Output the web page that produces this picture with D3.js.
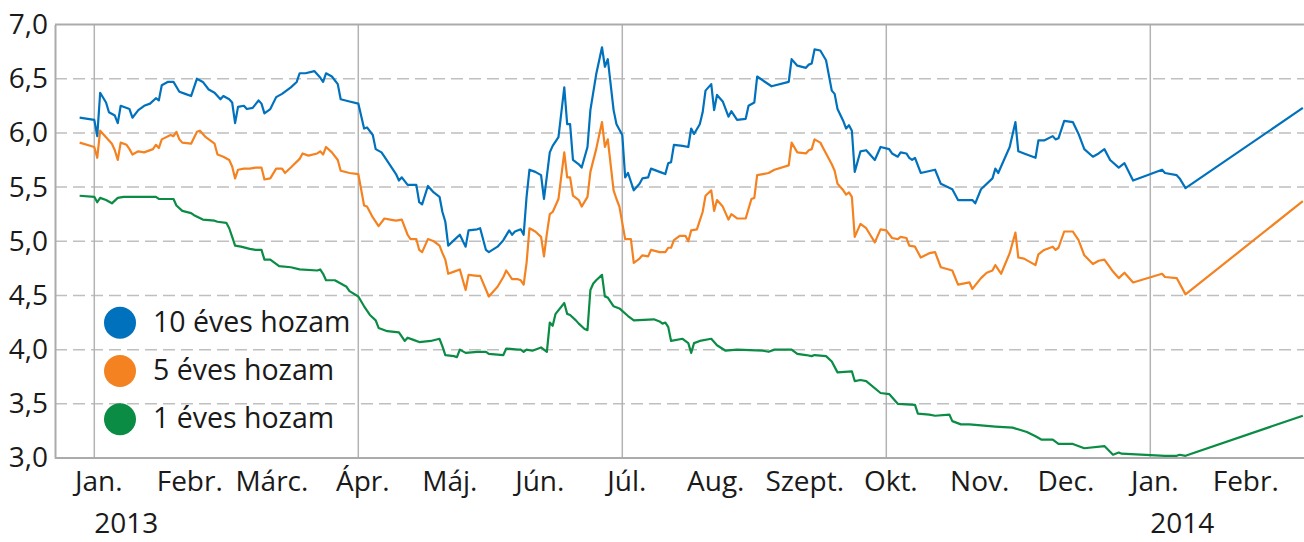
<!DOCTYPE html>
<html>
<head>
<meta charset="utf-8">
<script src="https://cdn.jsdelivr.net/npm/d3@7"></script>
<style>
  body { margin: 0; background: #fff; }
  text { font-family: "Open Sans", sans-serif; fill: #1a1a1a; }
</style>
</head>
<body>
<svg id="chart" width="1304" height="542"></svg>
<script>
// quarter boundaries are spaced evenly on the original axis
const quarterStarts = ["2013-01-01", "2013-04-01", "2013-07-01", "2013-10-01", "2014-01-01", "2014-04-01"];
const monthLabels = ["Jan.", "Febr.", "Márc.", "Ápr.", "Máj.", "Jún.", "Júl.", "Aug.", "Szept.", "Okt.", "Nov.", "Dec.", "Jan.", "Febr."];
const yearLabels = [["2013-01-01", "2013"], ["2014-01-01", "2014"]];
const yTicks = [3.0, 3.5, 4.0, 4.5, 5.0, 5.5, 6.0, 6.5, 7.0];
const seriesNames = ["10 éves hozam", "5 éves hozam", "1 éves hozam"];

const tenYear = [
  ["2012-12-27",6.14],["2013-01-01",6.12],["2013-01-02",5.97],["2013-01-03",6.37],["2013-01-05",6.28],["2013-01-06",6.19],["2013-01-08",6.16],["2013-01-09",6.09],["2013-01-10",6.25],["2013-01-13",6.22],["2013-01-14",6.14],["2013-01-16",6.21],["2013-01-18",6.25],["2013-01-20",6.27],["2013-01-22",6.32],["2013-01-23",6.30],["2013-01-24",6.44],["2013-01-26",6.47],["2013-01-28",6.47],["2013-01-30",6.38],["2013-02-01",6.36],["2013-02-03",6.34],["2013-02-05",6.50],["2013-02-07",6.47],["2013-02-09",6.40],["2013-02-11",6.37],["2013-02-13",6.31],["2013-02-14",6.34],["2013-02-16",6.31],["2013-02-17",6.28],["2013-02-18",6.09],["2013-02-19",6.24],["2013-02-21",6.25],["2013-02-22",6.22],["2013-02-24",6.23],["2013-02-26",6.30],["2013-02-27",6.27],["2013-02-28",6.18],["2013-03-02",6.22],["2013-03-04",6.33],["2013-03-06",6.36],["2013-03-09",6.42],["2013-03-11",6.47],["2013-03-12",6.55],["2013-03-14",6.55],["2013-03-17",6.57],["2013-03-19",6.51],["2013-03-20",6.47],["2013-03-21",6.55],["2013-03-23",6.52],["2013-03-25",6.45],["2013-03-26",6.31],["2013-03-29",6.29],
  ["2013-04-01",6.27],["2013-04-03",6.04],["2013-04-04",6.05],["2013-04-06",5.98],["2013-04-07",5.85],["2013-04-09",5.82],["2013-04-10",5.78],["2013-04-12",5.70],["2013-04-14",5.62],["2013-04-15",5.56],["2013-04-16",5.59],["2013-04-18",5.52],["2013-04-21",5.52],["2013-04-22",5.36],["2013-04-23",5.34],["2013-04-25",5.51],["2013-04-27",5.45],["2013-04-29",5.41],["2013-04-30",5.27],["2013-05-01",5.18],["2013-05-02",4.96],["2013-05-04",5.01],["2013-05-06",5.06],["2013-05-08",4.95],["2013-05-09",5.10],["2013-05-12",5.11],["2013-05-13",5.12],["2013-05-15",4.92],["2013-05-16",4.90],["2013-05-19",4.95],["2013-05-21",5.01],["2013-05-23",5.10],["2013-05-24",5.06],["2013-05-25",5.09],["2013-05-27",5.11],["2013-05-28",5.06],["2013-05-29",5.41],["2013-05-30",5.66],["2013-06-01",5.64],["2013-06-03",5.61],["2013-06-04",5.39],["2013-06-05",5.60],["2013-06-06",5.82],["2013-06-07",5.88],["2013-06-09",5.96],["2013-06-11",6.42],["2013-06-12",6.08],["2013-06-13",6.08],["2013-06-14",5.75],["2013-06-16",5.71],["2013-06-17",5.68],["2013-06-19",5.87],["2013-06-20",6.21],["2013-06-22",6.54],["2013-06-24",6.79],["2013-06-25",6.61],["2013-06-26",6.68],["2013-06-28",6.21],["2013-06-29",6.08],
  ["2013-07-01",5.98],["2013-07-02",5.59],["2013-07-03",5.63],["2013-07-05",5.47],["2013-07-07",5.53],["2013-07-08",5.58],["2013-07-10",5.59],["2013-07-11",5.67],["2013-07-14",5.64],["2013-07-16",5.62],["2013-07-17",5.72],["2013-07-18",5.73],["2013-07-19",5.89],["2013-07-22",5.88],["2013-07-24",5.87],["2013-07-25",6.04],["2013-07-26",5.99],["2013-07-28",6.08],["2013-07-29",6.19],["2013-07-30",6.39],["2013-08-01",6.45],["2013-08-02",6.21],["2013-08-03",6.35],["2013-08-05",6.29],["2013-08-07",6.15],["2013-08-08",6.20],["2013-08-10",6.12],["2013-08-13",6.13],["2013-08-14",6.25],["2013-08-16",6.28],["2013-08-17",6.52],["2013-08-22",6.43],["2013-08-28",6.47],["2013-08-29",6.68],["2013-08-31",6.62],["2013-09-03",6.60],["2013-09-04",6.63],["2013-09-05",6.64],["2013-09-06",6.77],["2013-09-08",6.76],["2013-09-10",6.67],["2013-09-12",6.39],["2013-09-13",6.36],["2013-09-14",6.22],["2013-09-16",6.11],["2013-09-17",6.04],["2013-09-18",6.07],["2013-09-19",6.02],["2013-09-20",5.64],["2013-09-22",5.83],["2013-09-24",5.84],["2013-09-27",5.75],["2013-09-29",5.87],
  ["2013-10-02",5.85],["2013-10-03",5.81],["2013-10-05",5.78],["2013-10-06",5.82],["2013-10-08",5.81],["2013-10-09",5.77],["2013-10-10",5.75],["2013-10-11",5.77],["2013-10-13",5.63],["2013-10-18",5.66],["2013-10-20",5.53],["2013-10-24",5.48],["2013-10-26",5.38],["2013-10-31",5.38],["2013-11-01",5.35],["2013-11-03",5.48],["2013-11-07",5.58],["2013-11-08",5.67],["2013-11-09",5.63],["2013-11-13",5.87],["2013-11-15",6.10],["2013-11-16",5.83],["2013-11-18",5.81],["2013-11-22",5.77],["2013-11-23",5.93],["2013-11-25",5.93],["2013-11-28",5.97],["2013-11-29",5.94],["2013-11-30",5.95],["2013-12-02",6.11],["2013-12-05",6.10],["2013-12-07",5.99],["2013-12-09",5.85],["2013-12-12",5.78],["2013-12-14",5.81],["2013-12-16",5.85],["2013-12-18",5.75],["2013-12-21",5.68],["2013-12-23",5.72],["2013-12-26",5.56],
  ["2014-01-05",5.66],["2014-01-06",5.63],["2014-01-10",5.61],["2014-01-11",5.58],["2014-01-13",5.49],["2014-02-22",6.23]
];

const fiveYear = [
  ["2012-12-27",5.91],["2013-01-01",5.87],["2013-01-02",5.77],["2013-01-03",6.02],["2013-01-05",5.96],["2013-01-07",5.90],["2013-01-08",5.84],["2013-01-09",5.75],["2013-01-10",5.91],["2013-01-12",5.89],["2013-01-13",5.85],["2013-01-14",5.80],["2013-01-16",5.83],["2013-01-18",5.82],["2013-01-21",5.85],["2013-01-22",5.89],["2013-01-23",5.86],["2013-01-24",5.94],["2013-01-27",5.98],["2013-01-28",5.97],["2013-01-29",6.01],["2013-01-30",5.94],["2013-01-31",5.91],["2013-02-03",5.90],["2013-02-05",6.01],["2013-02-06",6.02],["2013-02-08",5.96],["2013-02-11",5.90],["2013-02-12",5.80],["2013-02-14",5.78],["2013-02-16",5.75],["2013-02-17",5.69],["2013-02-18",5.58],["2013-02-19",5.66],["2013-02-21",5.67],["2013-02-23",5.67],["2013-02-25",5.68],["2013-02-27",5.68],["2013-02-28",5.57],["2013-03-02",5.58],["2013-03-04",5.67],["2013-03-06",5.67],["2013-03-07",5.63],["2013-03-09",5.68],["2013-03-12",5.76],["2013-03-13",5.81],["2013-03-15",5.79],["2013-03-18",5.81],["2013-03-19",5.83],["2013-03-20",5.80],["2013-03-21",5.87],["2013-03-23",5.82],["2013-03-25",5.75],["2013-03-26",5.65],["2013-03-29",5.63],
  ["2013-04-01",5.62],["2013-04-03",5.33],["2013-04-04",5.32],["2013-04-06",5.22],["2013-04-08",5.14],["2013-04-10",5.21],["2013-04-12",5.20],["2013-04-14",5.19],["2013-04-16",5.20],["2013-04-18",5.06],["2013-04-19",5.02],["2013-04-21",5.02],["2013-04-22",4.92],["2013-04-23",4.90],["2013-04-25",5.02],["2013-04-27",5.00],["2013-04-29",4.96],["2013-04-30",4.89],["2013-05-01",4.83],["2013-05-02",4.70],["2013-05-04",4.72],["2013-05-06",4.74],["2013-05-08",4.55],["2013-05-09",4.69],["2013-05-12",4.68],["2013-05-13",4.68],["2013-05-16",4.49],["2013-05-19",4.58],["2013-05-21",4.67],["2013-05-22",4.73],["2013-05-24",4.65],["2013-05-26",4.65],["2013-05-27",4.64],["2013-05-28",4.60],["2013-05-29",4.80],["2013-05-30",5.12],["2013-06-01",5.09],["2013-06-03",5.04],["2013-06-04",4.86],["2013-06-05",5.07],["2013-06-06",5.25],["2013-06-07",5.27],["2013-06-09",5.39],["2013-06-11",5.82],["2013-06-12",5.59],["2013-06-13",5.59],["2013-06-14",5.42],["2013-06-16",5.38],["2013-06-17",5.32],["2013-06-19",5.41],["2013-06-20",5.64],["2013-06-22",5.85],["2013-06-24",6.10],["2013-06-25",5.87],["2013-06-26",5.94],["2013-06-28",5.47],["2013-06-29",5.39],["2013-06-30",5.32],
  ["2013-07-02",5.02],["2013-07-04",5.02],["2013-07-05",4.80],["2013-07-07",4.84],["2013-07-08",4.87],["2013-07-10",4.86],["2013-07-11",4.92],["2013-07-14",4.90],["2013-07-16",4.90],["2013-07-17",4.94],["2013-07-18",4.94],["2013-07-19",5.01],["2013-07-21",5.05],["2013-07-23",5.05],["2013-07-24",5.00],["2013-07-25",5.10],["2013-07-27",5.11],["2013-07-28",5.19],["2013-07-29",5.27],["2013-07-30",5.42],["2013-08-01",5.47],["2013-08-02",5.28],["2013-08-03",5.38],["2013-08-05",5.32],["2013-08-07",5.20],["2013-08-08",5.25],["2013-08-10",5.21],["2013-08-13",5.21],["2013-08-14",5.30],["2013-08-15",5.39],["2013-08-16",5.40],["2013-08-17",5.61],["2013-08-19",5.62],["2013-08-21",5.63],["2013-08-23",5.66],["2013-08-28",5.70],["2013-08-29",5.91],["2013-08-31",5.82],["2013-09-03",5.81],["2013-09-04",5.84],["2013-09-05",5.85],["2013-09-06",5.94],["2013-09-08",5.91],["2013-09-10",5.81],["2013-09-12",5.71],["2013-09-13",5.65],["2013-09-14",5.53],["2013-09-16",5.47],["2013-09-17",5.43],["2013-09-18",5.45],["2013-09-19",5.41],["2013-09-20",5.04],["2013-09-22",5.16],["2013-09-24",5.12],["2013-09-27",4.99],["2013-09-29",5.11],
  ["2013-10-01",5.10],["2013-10-03",5.03],["2013-10-05",5.02],["2013-10-06",5.04],["2013-10-08",5.03],["2013-10-09",4.96],["2013-10-11",4.95],["2013-10-13",4.85],["2013-10-16",4.89],["2013-10-18",4.90],["2013-10-20",4.76],["2013-10-24",4.73],["2013-10-26",4.60],["2013-10-30",4.62],["2013-10-31",4.56],["2013-11-03",4.66],["2013-11-05",4.71],["2013-11-07",4.73],["2013-11-08",4.78],["2013-11-10",4.70],["2013-11-13",4.89],["2013-11-15",5.08],["2013-11-16",4.85],["2013-11-18",4.84],["2013-11-22",4.78],["2013-11-23",4.88],["2013-11-25",4.92],["2013-11-28",4.95],["2013-11-29",4.92],["2013-11-30",4.94],["2013-12-02",5.09],["2013-12-05",5.09],["2013-12-07",5.01],["2013-12-09",4.87],["2013-12-12",4.79],["2013-12-14",4.82],["2013-12-16",4.83],["2013-12-19",4.72],["2013-12-21",4.66],["2013-12-23",4.71],["2013-12-26",4.62],
  ["2014-01-05",4.70],["2014-01-06",4.67],["2014-01-10",4.66],["2014-01-13",4.51],["2014-02-22",5.37]
];

const oneYear = [
  ["2012-12-27",5.42],["2013-01-01",5.41],["2013-01-02",5.36],["2013-01-03",5.40],["2013-01-05",5.38],["2013-01-07",5.35],["2013-01-09",5.40],["2013-01-11",5.41],["2013-01-15",5.41],["2013-01-20",5.41],["2013-01-22",5.41],["2013-01-23",5.39],["2013-01-28",5.39],["2013-01-29",5.33],["2013-01-31",5.28],["2013-02-03",5.26],["2013-02-04",5.24],["2013-02-07",5.20],["2013-02-11",5.19],["2013-02-12",5.18],["2013-02-15",5.17],["2013-02-16",5.12],["2013-02-17",5.04],["2013-02-18",4.96],["2013-02-20",4.95],["2013-02-23",4.93],["2013-02-25",4.92],["2013-02-27",4.92],["2013-02-28",4.83],["2013-03-02",4.83],["2013-03-05",4.77],["2013-03-09",4.76],["2013-03-12",4.74],["2013-03-18",4.73],["2013-03-19",4.74],["2013-03-20",4.70],["2013-03-21",4.64],["2013-03-24",4.64],["2013-03-26",4.61],["2013-03-28",4.58],["2013-03-29",4.54],
  ["2013-04-01",4.49],["2013-04-03",4.40],["2013-04-05",4.32],["2013-04-07",4.27],["2013-04-08",4.20],["2013-04-11",4.17],["2013-04-15",4.16],["2013-04-16",4.12],["2013-04-17",4.08],["2013-04-18",4.11],["2013-04-20",4.09],["2013-04-22",4.07],["2013-04-26",4.08],["2013-04-29",4.10],["2013-04-30",4.03],["2013-05-01",3.95],["2013-05-04",3.94],["2013-05-05",3.93],["2013-05-06",4.00],["2013-05-08",3.97],["2013-05-12",3.98],["2013-05-15",3.98],["2013-05-16",3.96],["2013-05-21",3.95],["2013-05-22",4.01],["2013-05-26",4.00],["2013-05-27",4.00],["2013-05-28",3.98],["2013-05-29",4.00],["2013-05-31",3.99],["2013-06-03",4.02],["2013-06-05",3.98],["2013-06-06",4.25],["2013-06-07",4.22],["2013-06-08",4.33],["2013-06-11",4.43],["2013-06-12",4.33],["2013-06-13",4.32],["2013-06-15",4.27],["2013-06-16",4.24],["2013-06-18",4.19],["2013-06-19",4.18],["2013-06-20",4.55],["2013-06-21",4.61],["2013-06-22",4.64],["2013-06-24",4.69],["2013-06-25",4.49],["2013-06-26",4.48],["2013-06-28",4.40],["2013-06-30",4.38],
  ["2013-07-03",4.31],["2013-07-05",4.27],["2013-07-12",4.28],["2013-07-14",4.26],["2013-07-15",4.24],["2013-07-16",4.25],["2013-07-17",4.21],["2013-07-18",4.08],["2013-07-22",4.10],["2013-07-24",4.06],["2013-07-25",3.97],["2013-07-26",4.06],["2013-07-28",4.08],["2013-08-01",4.10],["2013-08-03",4.04],["2013-08-06",3.99],["2013-08-10",4.00],["2013-08-19",3.99],["2013-08-21",3.98],["2013-08-23",4.00],["2013-08-29",4.00],["2013-08-31",3.96],["2013-09-03",3.95],["2013-09-05",3.94],["2013-09-06",3.95],["2013-09-10",3.94],["2013-09-12",3.89],["2013-09-14",3.79],["2013-09-19",3.80],["2013-09-20",3.71],["2013-09-22",3.72],["2013-09-24",3.71],["2013-09-29",3.60],
  ["2013-10-02",3.59],["2013-10-05",3.50],["2013-10-11",3.49],["2013-10-12",3.41],["2013-10-16",3.40],["2013-10-18",3.39],["2013-10-23",3.40],["2013-10-24",3.34],["2013-10-27",3.31],["2013-10-30",3.31],["2013-11-08",3.29],["2013-11-14",3.28],["2013-11-19",3.24],["2013-11-22",3.20],["2013-11-24",3.17],["2013-11-28",3.17],["2013-11-30",3.13],["2013-12-05",3.13],["2013-12-09",3.09],["2013-12-16",3.11],["2013-12-19",3.03],["2013-12-21",3.05],["2013-12-22",3.04],
  ["2014-01-06",3.02],["2014-01-10",3.02],["2014-01-11",3.03],["2014-01-13",3.02],["2014-02-22",3.39]
];

const colors = ["#0071bc", "#f58220", "#0a8c44"];

const width = 1304, height = 542;
const plot = { left: 55, right: 1304, top: 24.5, bottom: 458 };
const qLeft = 94.3, qStep = 264;
const parse = d3.timeParse("%Y-%m-%d");
const decimalComma = d3.formatLocale({ decimal: ",", thousands: " ", grouping: [3], currency: ["", " Ft"] }).format(".1f");

const svg = d3.select("#chart");

const x = d3.scaleTime()
  .domain(quarterStarts.map(parse))
  .range(quarterStarts.map((d, i) => qLeft + i * qStep));

const y = d3.scaleLinear()
  .domain([3, 7])
  .range([plot.bottom, plot.top]);

svg.append("defs").append("clipPath")
  .attr("id", "plot-clip")
  .append("rect")
  .attr("x", plot.left)
  .attr("y", plot.top - 10)
  .attr("width", plot.right - plot.left)
  .attr("height", plot.bottom - plot.top + 10);

// dashed horizontal grid
svg.append("g")
  .selectAll("line")
  .data(yTicks.filter(v => v > 3 && v < 7))
  .join("line")
  .attr("x1", plot.left)
  .attr("x2", plot.right)
  .attr("y1", d => y(d))
  .attr("y2", d => y(d))
  .attr("stroke", "#bfbfbf")
  .attr("stroke-width", 1.5)
  .attr("stroke-dasharray", "12,6");

// solid quarter separators
svg.append("g")
  .selectAll("line")
  .data(quarterStarts.map(parse).filter(d => x(d) < plot.right))
  .join("line")
  .attr("x1", d => x(d))
  .attr("x2", d => x(d))
  .attr("y1", plot.top)
  .attr("y2", plot.bottom)
  .attr("stroke", "#b3b3b3")
  .attr("stroke-width", 1.5);

// frame: top and bottom
svg.append("g")
  .selectAll("line")
  .data([7, 3])
  .join("line")
  .attr("x1", plot.left)
  .attr("x2", plot.right)
  .attr("y1", d => y(d))
  .attr("y2", d => y(d))
  .attr("stroke", "#ababab")
  .attr("stroke-width", 2);

// y axis
const yAxis = svg.append("g")
  .attr("transform", `translate(${plot.left},0)`)
  .call(d3.axisLeft(y).tickValues(yTicks).tickFormat(decimalComma).tickSize(0).tickSizeOuter(0).tickPadding(7));
yAxis.select(".domain").attr("stroke", "#ababab").attr("stroke-width", 2);
yAxis.selectAll("text")
  .style("font-family", "'Open Sans', sans-serif")
  .style("font-size", "28px")
  .attr("fill", "#1a1a1a");

// month labels
const monthDates = d3.timeMonth.range(parse("2013-01-01"), parse("2014-03-01"));
const xAxis = svg.append("g")
  .attr("transform", `translate(4,${plot.bottom})`)
  .call(d3.axisBottom(x).tickValues(monthDates).tickFormat((d, i) => monthLabels[i]).tickSize(0).tickPadding(13));
xAxis.select(".domain").remove();
xAxis.selectAll("text")
  .style("font-family", "'Open Sans', sans-serif")
  .style("font-size", "28px")
  .attr("fill", "#1a1a1a");

// year labels
svg.append("g")
  .selectAll("text")
  .data(yearLabels)
  .join("text")
  .attr("x", d => x(parse(d[0])))
  .attr("y", 533)
  .style("font-size", "28px")
  .text(d => d[1]);

// series lines
const line = d3.line()
  .x(d => x(parse(d[0])))
  .y(d => y(d[1]));

svg.append("g")
  .attr("clip-path", "url(#plot-clip)")
  .selectAll("path")
  .data([oneYear, fiveYear, tenYear])
  .join("path")
  .attr("d", line)
  .attr("fill", "none")
  .attr("stroke", (d, i) => colors[2 - i])
  .attr("stroke-width", 2.2)
  .attr("stroke-linejoin", "round");

// legend
const legend = svg.append("g")
  .selectAll("g")
  .data(seriesNames)
  .join("g")
  .attr("transform", (d, i) => `translate(120,${322.7 + i * 48.3})`);

legend.append("circle")
  .attr("r", 16)
  .attr("fill", (d, i) => colors[i]);

legend.append("text")
  .attr("x", 33)
  .attr("y", 9)
  .style("font-size", "28.5px")
  .text(d => d);
</script>
</body>
</html>
